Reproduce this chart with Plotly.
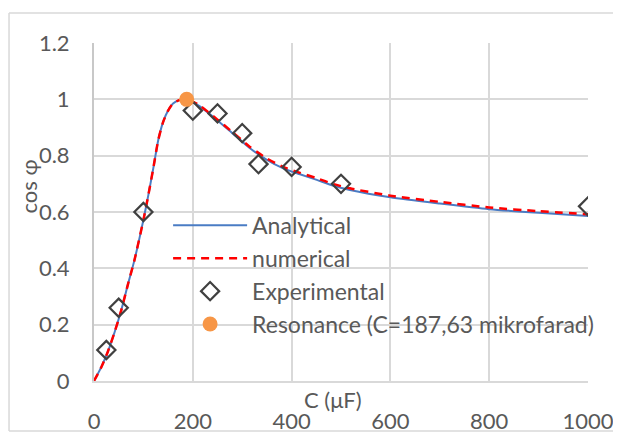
import plotly.graph_objects as go

# ---- data ----
c_analytical = [0, 15, 28, 42, 55, 69, 82, 100, 110, 120, 130, 140, 150, 160, 174, 187.63,
                200, 215, 250, 280, 315, 350, 383, 417, 451, 485, 518, 600, 700, 800, 900, 1000]
cos_analytical = [0, 0.05, 0.104, 0.175, 0.25, 0.345, 0.43, 0.572, 0.66, 0.755, 0.855, 0.92,
                  0.96, 0.985, 0.998, 1.0, 0.99, 0.974, 0.925, 0.88, 0.827, 0.785, 0.755, 0.734,
                  0.714, 0.693, 0.678, 0.652, 0.630, 0.610, 0.597, 0.586]

c_numerical = [0, 15, 28, 42, 55, 69, 82, 100, 110, 120, 130, 140, 150, 160, 174, 187.63,
               200, 215, 250, 280, 315, 350, 383, 417, 451, 485, 518, 600, 700, 800, 900, 1000]
cos_numerical = [0, 0.05, 0.104, 0.175, 0.25, 0.345, 0.43, 0.572, 0.66, 0.755, 0.855, 0.92,
                 0.96, 0.985, 0.998, 1.0, 0.992, 0.977, 0.928, 0.884, 0.832, 0.79, 0.76, 0.739,
                 0.72, 0.699, 0.684, 0.658, 0.636, 0.616, 0.603, 0.592]

c_experimental = [25, 50, 100, 200, 250, 300, 333, 400, 500, 1000]
cos_experimental = [0.11, 0.26, 0.60, 0.96, 0.95, 0.88, 0.77, 0.76, 0.70, 0.62]

c_resonance = [187.63]
cos_resonance = [1.0]

x_ticks = [0, 200, 400, 600, 800, 1000]
y_ticks = [0, 0.2, 0.4, 0.6, 0.8, 1.0, 1.2]

FONT = "Lato"
FS = 22
TXT = "#595959"
GRID = "#d9d9d9"

fig = go.Figure()
fig.add_trace(go.Scatter(x=c_analytical, y=cos_analytical, mode="lines", name="Analytical",
                         line=dict(color="#4a7cc4", width=2, shape="spline", smoothing=0.6)))
fig.add_trace(go.Scatter(x=c_numerical, y=cos_numerical, mode="lines", name="numerical",
                         line=dict(color="#ff0000", width=2.5, dash="8px,6px", shape="spline", smoothing=0.6)))
fig.add_trace(go.Scatter(x=c_experimental, y=cos_experimental, mode="markers", name="Experimental",
                         marker=dict(symbol="diamond-open", size=14, color="#404040",
                                     line=dict(width=2.2, color="#404040"))))
fig.add_trace(go.Scatter(x=c_resonance, y=cos_resonance, mode="markers",
                         name="Resonance (C=187,63 mikrofarad)",
                         marker=dict(symbol="circle", size=15, color="#f79646")))

frame_line = dict(color=GRID, width=1.5)

fig.update_layout(
    width=613, height=425, autosize=False,
    margin=dict(l=86, r=33, t=35, b=52, autoexpand=False),
    paper_bgcolor="white", plot_bgcolor="white",
    font=dict(family=FONT, size=FS, color=TXT),
    showlegend=True,
    legend=dict(x=0.150, y=0.524, xanchor="left", yanchor="top", bgcolor="rgba(0,0,0,0)",
                font=dict(family=FONT, size=23, color=TXT), itemwidth=74, tracegroupgap=0),
    xaxis=dict(range=[0, 1000], tickvals=x_ticks, showgrid=True, gridcolor=GRID, gridwidth=2,
               showline=True, linecolor=GRID, linewidth=2, zeroline=False, automargin=False,
               ticks="", ticklabelstandoff=20, tickfont=dict(size=FS, color=TXT)),
    yaxis=dict(range=[0, 1.2], tickvals=y_ticks, showgrid=True, gridcolor=GRID, gridwidth=2,
               showline=True, linecolor="#c8c8c8", linewidth=2, zeroline=False, automargin=False,
               ticks="", ticklabelstandoff=18, tickfont=dict(size=FS, color=TXT)),
    shapes=[
        dict(type="line", xref="paper", yref="paper", x0=-0.172, x1=1.12, y0=1.089, y1=1.089, line=frame_line),
        dict(type="line", xref="paper", yref="paper", x0=-0.172, x1=1.12, y0=-0.148, y1=-0.148, line=frame_line),
        dict(type="line", xref="paper", yref="paper", x0=-0.172, x1=-0.172, y0=-0.148, y1=1.089, line=frame_line),
    ],
    annotations=[
        dict(text="C (μF)", xref="x", yref="paper", x=484, y=-0.054, showarrow=False,
             xanchor="center", yanchor="middle", font=dict(family=FONT, size=FS, color=TXT)),
        dict(text="cos φ", xref="paper", yref="paper", x=-0.132, y=0.575, showarrow=False,
             textangle=-90, xanchor="center", yanchor="middle", font=dict(family=FONT, size=FS, color=TXT)),
    ],
)

fig.write_html("out.html")
